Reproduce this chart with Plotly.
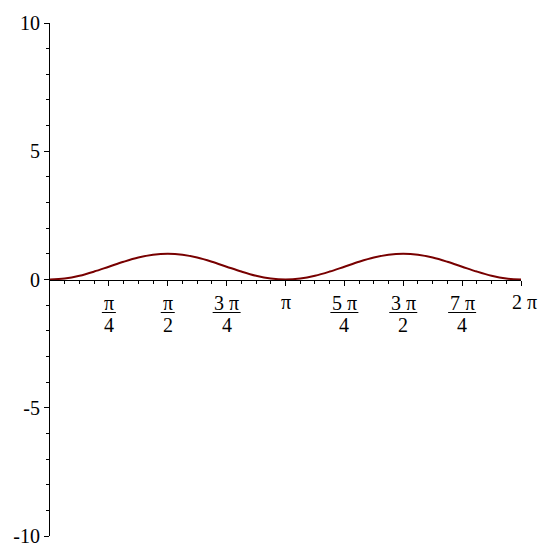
import plotly.graph_objects as go
import math

PI = math.pi

x_vals = [0.000, 0.196, 0.393, 0.589, 0.785, 0.982, 1.178, 1.374, 1.571,
          1.767, 1.963, 2.160, 2.356, 2.553, 2.749, 2.945, 3.142,
          3.338, 3.534, 3.731, 3.927, 4.123, 4.320, 4.516, 4.712,
          4.909, 5.105, 5.301, 5.498, 5.694, 5.890, 6.087, 6.283]
y_vals = [0.000, 0.038, 0.146, 0.309, 0.500, 0.691, 0.854, 0.962, 1.000,
          0.962, 0.854, 0.691, 0.500, 0.309, 0.146, 0.038, 0.000,
          0.038, 0.146, 0.309, 0.500, 0.691, 0.854, 0.962, 1.000,
          0.962, 0.854, 0.691, 0.500, 0.309, 0.146, 0.038, 0.000]

x_ticks = [PI/4, PI/2, 3*PI/4, PI, 5*PI/4, 3*PI/2, 7*PI/4, 2*PI]
x_num = ["π", "π", "3 π", "π", "5 π", "3 π", "7 π", "2 π"]
x_den = ["4", "2", "4", "", "4", "2", "4", ""]

y_ticks = [-10, -5, 0, 5, 10]
y_text = ["-10", "-5", "0", "5", "10"]

FONT = "Liberation Serif"
FS = 20

fig = go.Figure()
fig.add_trace(go.Scatter(x=x_vals, y=y_vals, mode="lines", line_shape="spline",
                         line=dict(color="#780000", width=2), hoverinfo="skip"))

annotations = []
shapes = []
for xv, num, den in zip(x_ticks, x_num, x_den):
    if den:
        annotations.append(dict(x=xv, y=0, xref="x", yref="y", text=num, showarrow=False,
                                yshift=-23, font=dict(family=FONT, size=FS, color="black")))
        annotations.append(dict(x=xv, y=0, xref="x", yref="y", text=den, showarrow=False,
                                yshift=-45, font=dict(family=FONT, size=FS, color="black")))
        w = 14 if len(num) == 1 else 28
        shapes.append(dict(type="line", xref="x", yref="y", xsizemode="pixel", ysizemode="pixel",
                           xanchor=xv, yanchor=0, x0=-w/2, x1=w/2, y0=-33, y1=-33,
                           line=dict(color="black", width=1)))
    else:
        annotations.append(dict(x=xv, y=0, xref="x", yref="y", text=num, showarrow=False,
                                yshift=-22, xshift=3 if len(num) > 1 else 0,
                                font=dict(family=FONT, size=FS, color="black")))

fig.update_layout(
    width=543, height=559,
    margin=dict(l=50, r=22, t=15, b=18),
    plot_bgcolor="white", paper_bgcolor="white",
    showlegend=False,
    annotations=annotations,
    shapes=shapes,
    xaxis=dict(range=[0, 2*PI], anchor="free", position=0.5, showline=True,
               linecolor="black", linewidth=1, showgrid=False, zeroline=False,
               tickmode="array", tickvals=x_ticks, showticklabels=False,
               ticks="outside", ticklen=5, tickcolor="black",
               minor=dict(tickmode="array", tickvals=[k*PI/16 for k in range(1, 33)],
                          ticks="outside", ticklen=3, tickcolor="black"),
               fixedrange=True),
    yaxis=dict(range=[-10, 10], showline=True, linecolor="black", linewidth=1,
               showgrid=False, zeroline=False, tickmode="array", tickvals=y_ticks,
               ticktext=y_text, ticks="outside", ticklen=5, tickcolor="black",
               tickfont=dict(family=FONT, size=FS, color="black"),
               minor=dict(dtick=1, ticks="outside", ticklen=3, tickcolor="black"),
               fixedrange=True),
)

fig.write_html("out.html")
